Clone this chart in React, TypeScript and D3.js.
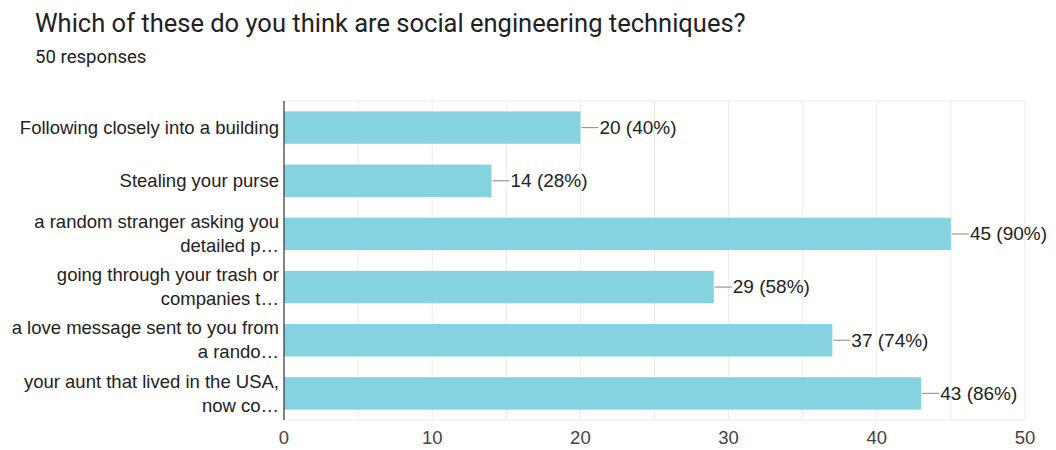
import React from "react";
import * as d3 from "d3";

const categories: string[][] = [
  ["Following closely into a building"],
  ["Stealing your purse"],
  ["a random stranger asking you", "detailed p…"],
  ["going through your trash or", "companies t…"],
  ["a love message sent to you from", "a rando…"],
  ["your aunt that lived in the USA,", "now co…"],
];
const counts: number[] = [20, 14, 45, 29, 37, 43];
const total = 50;
const xTicks: number[] = [0, 10, 20, 30, 40, 50];
const gridValues: number[] = [5, 10, 15, 20, 25, 30, 35, 40, 45, 50];

const W = 1056;
const H = 450;
const left = 284;
const right = 1025;
const top = 101;
const bottom = 420;

export default function App() {
  const x = d3.scaleLinear().domain([0, 50]).range([left, right]);
  const y = d3
    .scaleBand<number>()
    .domain(d3.range(categories.length))
    .range([top, bottom])
    .paddingInner(0.39)
    .paddingOuter(0.195);

  const labelFont = "Liberation Sans, Arial, sans-serif";
  return (
    <svg
      width={W}
      height={H}
      style={{ position: "absolute", left: 0, top: 0, background: "#fff" }}
    >
      <text x={35} y={32} fontFamily="Roboto, sans-serif" fontSize={25.5} fill="#202124">
        Which of these do you think are social engineering techniques?
      </text>
      <text x={35} y={63} fontFamily="Roboto, sans-serif" fontSize={18.6} fill="#202124">
        50 responses
      </text>
      {/* grid */}
      <line x1={left} x2={right} y1={top} y2={top} stroke="#ebebeb" />
      <line x1={left} x2={right} y1={bottom} y2={bottom} stroke="#ebebeb" />
      {gridValues.map((v) => (
        <line key={v} x1={x(v)} x2={x(v)} y1={top} y2={bottom} stroke="#ebebeb" />
      ))}
      {/* bars */}
      {counts.map((c, i) => {
        const y0 = y(i)!;
        const bh = y.bandwidth();
        const cy = y0 + bh / 2;
        const xe = x(c);
        return (
          <g key={i}>
            <rect x={left} y={y0} width={xe - left} height={bh} fill="#85d3e1" />
            <line x1={xe + 1} x2={xe + 18} y1={cy} y2={cy} stroke="#999" strokeWidth={1.2} />
            <text
              x={xe + 19}
              y={cy}
              dy="0.33em"
              fontFamily={labelFont}
              fontSize={19}
              fill="#222"
            >
              {`${c} (${Math.round((c / total) * 100)}%)`}
            </text>
          </g>
        );
      })}
      {/* category labels */}
      {categories.map((lines, i) => {
        const cy = y(i)! + y.bandwidth() / 2;
        const n = lines.length;
        return (
          <text
            key={i}
            x={279}
            textAnchor="end"
            fontFamily={labelFont}
            fontSize={18.5}
            fill="#222"
          >
            {lines.map((l, j) => (
              <tspan key={j} x={279} y={cy + (j - (n - 1) / 2) * 24} dy="0.33em">
                {l}
              </tspan>
            ))}
          </text>
        );
      })}
      {/* axis line */}
      <line x1={left} x2={left} y1={top} y2={bottom} stroke="#333" strokeWidth={1.2} />
      {/* x tick labels */}
      {xTicks.map((t) => (
        <text
          key={t}
          x={x(t)}
          y={444}
          textAnchor="middle"
          fontFamily={labelFont}
          fontSize={18.5}
          fill="#444"
        >
          {t}
        </text>
      ))}
    </svg>
  );
}
